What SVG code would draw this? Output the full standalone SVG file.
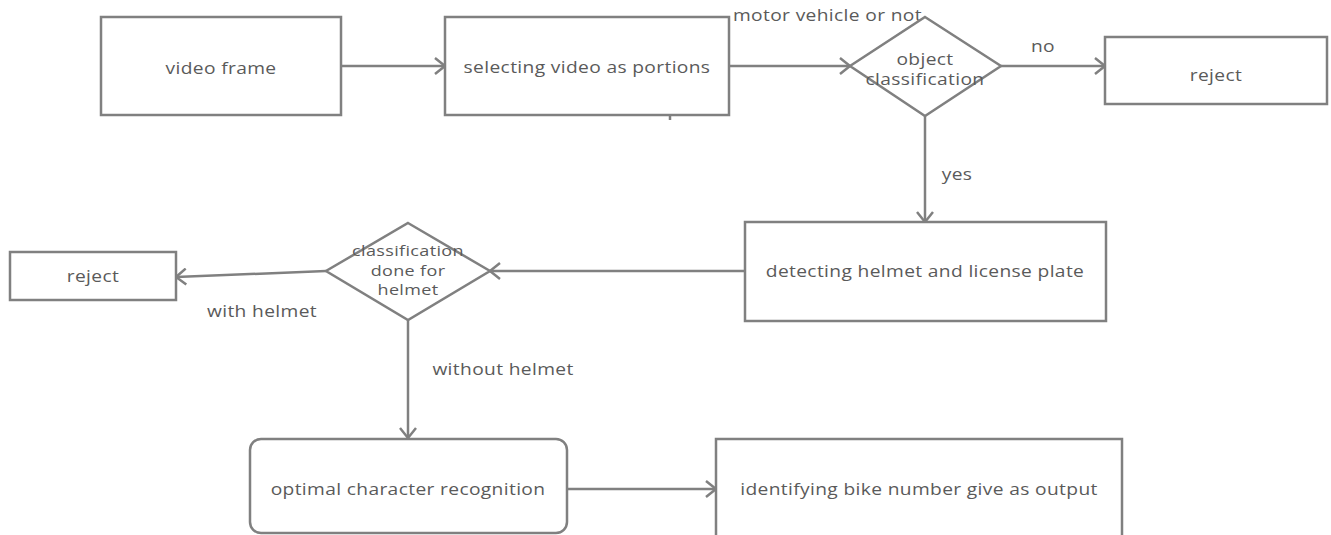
<svg xmlns="http://www.w3.org/2000/svg" width="1331" height="535" viewBox="0 0 1331 535">
<style>
.s{fill:#fff;stroke:#808080;stroke-width:2.5}
.c{fill:none;stroke:#808080;stroke-width:2.5}
text{font-family:"Open Sans","Noto Sans",sans-serif;font-size:16px;letter-spacing:0.3px;fill:#5a5a5a;text-anchor:middle}
.sm{font-size:15px}
</style>
<defs>
<marker id="a" markerWidth="14" markerHeight="18" refX="12" refY="9" orient="auto" markerUnits="userSpaceOnUse">
<path d="M2,1 L12,9 L2,17" fill="none" stroke="#808080" stroke-width="2.5"/>
</marker>
</defs>
<rect width="1331" height="535" fill="#fff"/>
<g id="connectors">
<line class="c" x1="341" y1="66" x2="445" y2="66" marker-end="url(#a)"/>
<line class="c" x1="729" y1="66" x2="850" y2="66" marker-end="url(#a)"/>
<line class="c" x1="1001" y1="66" x2="1105" y2="66" marker-end="url(#a)"/>
<line class="c" x1="925" y1="116" x2="925" y2="222" marker-end="url(#a)"/>
<line class="c" x1="745" y1="271" x2="490" y2="271" marker-end="url(#a)"/>
<line class="c" x1="326" y1="271" x2="176" y2="277" marker-end="url(#a)"/>
<line class="c" x1="408" y1="320" x2="408" y2="438" marker-end="url(#a)"/>
<line class="c" x1="567" y1="489" x2="716" y2="489" marker-end="url(#a)"/>
<line class="c" x1="670" y1="115" x2="670" y2="120"/>
<text transform="translate(733 21) scale(1.2 1)" style="text-anchor:start">motor vehicle or not</text>
<text transform="translate(1043 52) scale(1.2 1)">no</text>
<text transform="translate(957 180) scale(1.2 1)">yes</text>
<text transform="translate(262 317) scale(1.2 1)">with helmet</text>
<text transform="translate(503 375) scale(1.2 1)">without helmet</text>
</g>
<g id="video-frame">
<rect class="s" x="101" y="17" width="240" height="98"/>
<text transform="translate(221 74) scale(1.2 1)">video frame</text>
</g>
<g id="selecting">
<rect class="s" x="445" y="17" width="284" height="98"/>
<text transform="translate(587 73) scale(1.2 1)">selecting video as portions</text>
</g>
<g id="object-classification">
<polygon class="s" points="925,17 1001,66 925,116 850,66"/>
<text transform="translate(925 65) scale(1.2 1)">object</text>
<text transform="translate(925 85) scale(1.2 1)">classification</text>
</g>
<g id="reject-1">
<rect class="s" x="1105" y="37" width="222" height="67"/>
<text transform="translate(1216 81) scale(1.2 1)">reject</text>
</g>
<g id="detecting">
<rect class="s" x="745" y="222" width="361" height="99"/>
<text transform="translate(925 277) scale(1.2 1)">detecting helmet and license plate</text>
</g>
<g id="classification-helmet">
<polygon class="s" points="408,223 490,271 408,320 326,271"/>
<text class="sm" transform="translate(408 256) scale(1.2 1)">classification</text>
<text class="sm" transform="translate(408 276) scale(1.2 1)">done for</text>
<text class="sm" transform="translate(408 295) scale(1.2 1)">helmet</text>
</g>
<g id="reject-2">
<rect class="s" x="10" y="252" width="166" height="48"/>
<text transform="translate(93 282) scale(1.2 1)">reject</text>
</g>
<g id="ocr">
<rect class="s" x="250" y="439" width="317" height="94" rx="11"/>
<text transform="translate(408 495) scale(1.2 1)">optimal character recognition</text>
</g>
<g id="identifying">
<rect class="s" x="716" y="439" width="406" height="100"/>
<text transform="translate(919 495) scale(1.2 1)">identifying bike number give as output</text>
</g>
</svg>
